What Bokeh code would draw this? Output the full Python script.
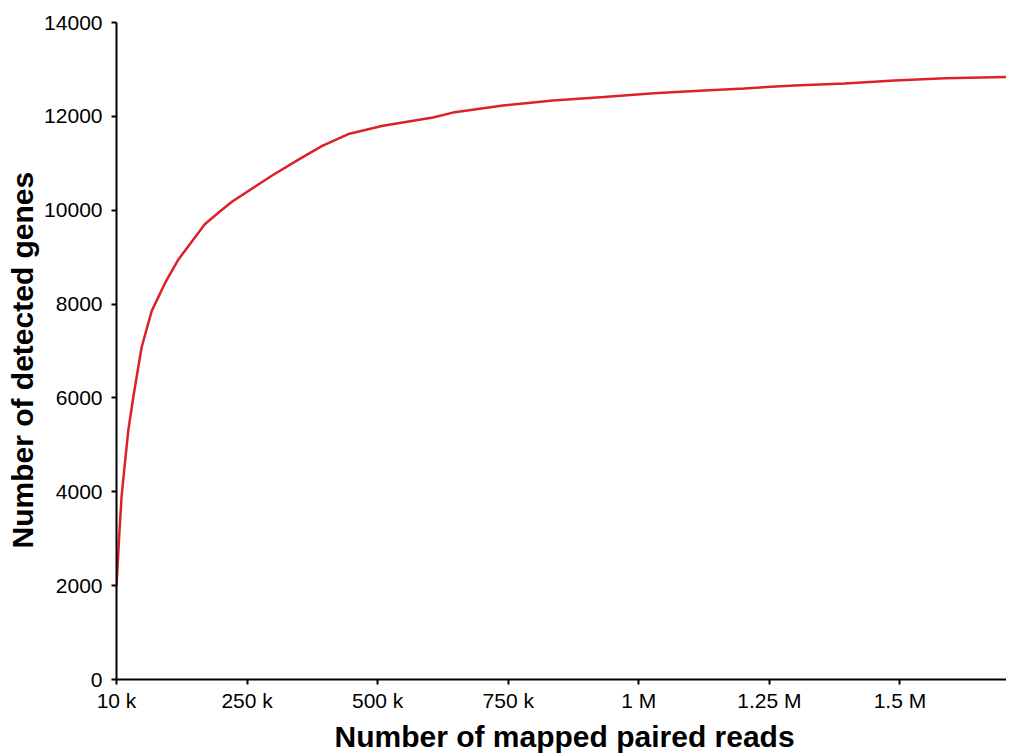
import math
from bokeh.plotting import figure
from bokeh.models import Range1d, FixedTicker, Title
from bokeh.embed import file_html
from bokeh.resources import INLINE

# --- data ---
reads = [10000, 15800, 19600, 26000, 32500, 42000, 58000, 77300, 103000, 128600,
         154000, 179000, 205600, 231000, 283000, 308000, 360000, 404000, 456000,
         520000, 616000, 654000, 750000, 846000, 943000, 1039000, 1135000, 1212000,
         1308000, 1404000, 1500000, 1596000, 1714000]
genes = [2000, 3180, 3880, 4600, 5300, 6010, 7075, 7850, 8450, 8950,
         9330, 9700, 9950, 10180, 10560, 10740, 11090, 11370, 11630,
         11800, 11975, 12080, 12230, 12340, 12410, 12490, 12550, 12595,
         12660, 12700, 12765, 12810, 12840]

x_tick_pos = [10000, 260000, 510000, 760000, 1010000, 1260000, 1510000]
x_tick_labels = ["10 k", "250 k", "500 k", "750 k", "1 M", "1.25 M", "1.5 M"]
y_ticks = [0, 2000, 4000, 6000, 8000, 10000, 12000, 14000]

x_title = "Number of mapped paired reads"
y_title = "Number of detected genes"

FONT = "Liberation Sans"
W, H = 1005, 752
LEFT, TOP, BOTTOM = 115, 22, 73

p = figure(width=W, height=H, output_backend="svg", toolbar_location=None,
           x_range=Range1d(10000, 1714000), y_range=Range1d(0, 14000),
           min_border_left=LEFT, min_border_top=TOP, min_border_bottom=BOTTOM,
           min_border_right=0)
p.frame_width = W - LEFT
p.frame_height = H - TOP - BOTTOM
p.outline_line_color = None
p.xgrid.visible = False
p.ygrid.visible = False
p.background_fill_color = "white"
p.border_fill_color = "white"

p.line(reads, genes, line_color="#dc2128", line_width=2.5)

for ax in (p.xaxis[0], p.yaxis[0]):
    ax.axis_line_color = "black"
    ax.axis_line_width = 2
    ax.major_tick_line_color = "black"
    ax.major_tick_line_width = 2
    ax.major_tick_out = 5
    ax.major_tick_in = 0
    ax.minor_tick_line_color = None
    ax.major_label_text_font = FONT
    ax.major_label_text_font_size = "21px"
    ax.major_label_text_color = "black"

p.xaxis[0].ticker = FixedTicker(ticks=x_tick_pos)
p.xaxis[0].major_label_overrides = {t: l for t, l in zip(x_tick_pos, x_tick_labels)}
p.xaxis[0].major_label_standoff = 4
p.yaxis[0].ticker = FixedTicker(ticks=y_ticks)
p.yaxis[0].major_label_standoff = 9

p.add_layout(Title(text=x_title, align="left", offset=218, standoff=6,
                   text_font=FONT, text_font_size="30px", text_font_style="bold",
                   text_color="black"), "below")
p.add_layout(Title(text=y_title, align="left", offset=131, standoff=6,
                   text_font=FONT, text_font_size="30px", text_font_style="bold",
                   text_color="black"), "left")

open("out.html", "w").write(file_html(p, INLINE))
